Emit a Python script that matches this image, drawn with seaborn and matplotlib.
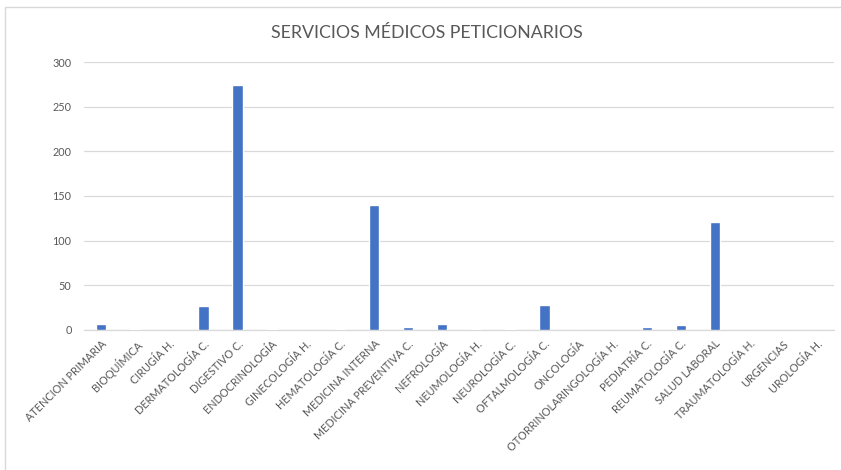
import matplotlib
matplotlib.use("Agg")
import matplotlib.pyplot as plt
import matplotlib.patches as mpatches
import seaborn as sns
import pandas as pd

servicios = [
    "ATENCION PRIMARIA", "BIOQUÍMICA", "CIRUGÍA H.", "DERMATOLOGÍA C.",
    "DIGESTIVO C.", "ENDOCRINOLOGÍA", "GINECOLOGÍA H.", "HEMATOLOGÍA C.",
    "MEDICINA INTERNA", "MEDICINA PREVENTIVA C.", "NEFROLOGÍA", "NEUMOLOGÍA H.",
    "NEUROLOGÍA C.", "OFTALMOLOGÍA C.", "ONCOLOGÍA", "OTORRINOLARINGOLOGÍA H.",
    "PEDIATRÍA C.", "REUMATOLOGÍA C.", "SALUD LABORAL", "TRAUMATOLOGÍA H.",
    "URGENCIAS", "UROLOGÍA H.",
]
peticiones = [7, 1, 0, 27, 274, 1, 0, 1, 140, 3, 7, 1, 1, 28, 0, 0, 3, 6, 121, 0, 0, 0]
y_ticks = [0, 50, 100, 150, 200, 250, 300]

df = pd.DataFrame({"servicio": servicios, "peticiones": peticiones})

sns.set_theme(style="white")
plt.rcParams["font.family"] = ["Lato", "DejaVu Sans"]

fig = plt.figure(figsize=(8.41, 4.70), dpi=100)
ax = fig.add_axes([0.100, 0.298, 0.892, 0.570])

sns.barplot(data=df, x="servicio", y="peticiones", color="#4472C4",
            width=0.3, saturation=1, ax=ax, zorder=3)

ax.set_ylim(0, 300)
ax.set_yticks(y_ticks)
ax.set_xlim(-0.5, len(servicios) - 0.5)
ax.yaxis.grid(True, color="#D9D9D9", linewidth=0.9, zorder=0)
ax.set_axisbelow(True)
for side in ["top", "right", "left"]:
    ax.spines[side].set_visible(False)
ax.spines["bottom"].set_color("#D9D9D9")
ax.spines["bottom"].set_linewidth(0.9)

ax.set_xlabel("")
ax.set_ylabel("")
ax.tick_params(axis="both", length=0, colors="#595959", labelsize=7.8)
ax.tick_params(axis="y", pad=9)
ax.tick_params(axis="x", pad=6)
plt.setp(ax.get_xticklabels(), rotation=45, ha="right", rotation_mode="anchor")

fig.text(0.508, 0.930, "SERVICIOS MÉDICOS PETICIONARIOS", ha="center", va="center",
         fontsize=12.8, color="#595959")

# thin frame around the chart area
fig.patches.append(mpatches.Rectangle((0.006, -0.02), 1.1, 1.005, transform=fig.transFigure,
                                      fill=False, edgecolor="#D9D9D9", linewidth=1.0))

fig.savefig("out.png", dpi=100, facecolor="white")
